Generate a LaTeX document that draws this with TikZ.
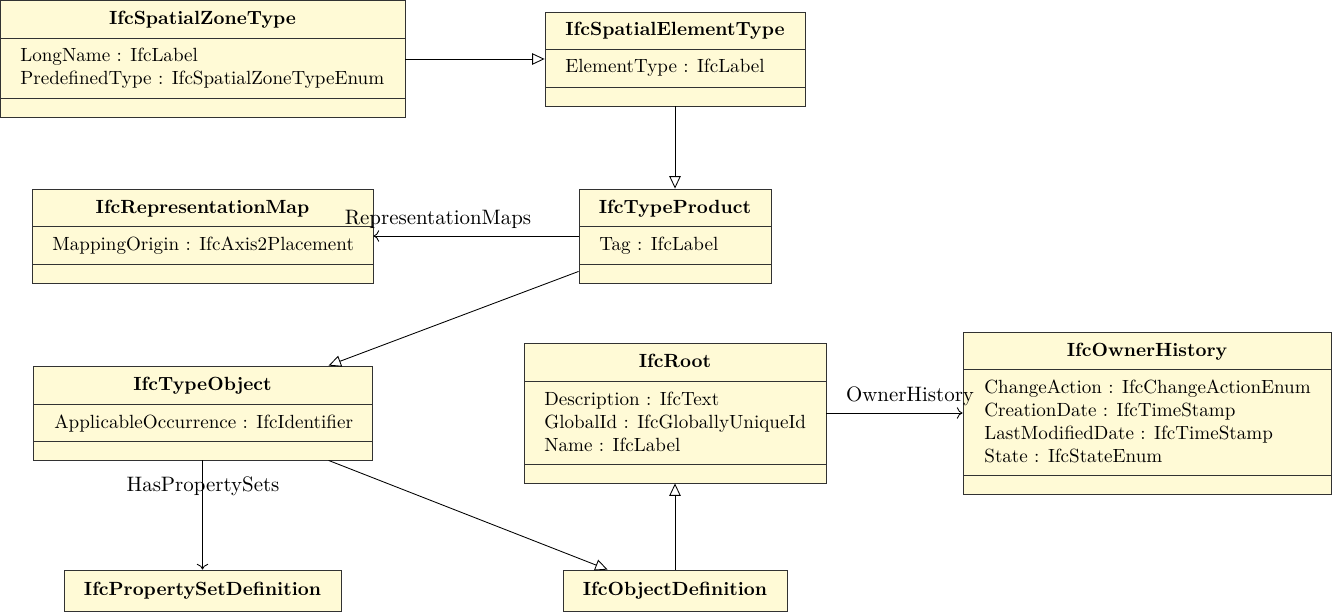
\documentclass[tikz,border=0pt]{standalone}
\usetikzlibrary{arrows.meta,fit,calc}
\definecolor{classfill}{RGB}{255,250,214}
\definecolor{classline}{RGB}{50,50,50}
\tikzset{
  x=0.524pt, y=-0.524pt,
  cls/.style={draw=classline, fill=classfill, line width=0.45pt, inner sep=0pt, rectangle},
  sep/.style={draw=classline, line width=0.45pt},
  ttl/.style={anchor=base, inner sep=0pt, font=\bfseries},
  attr/.style={anchor=base west, inner sep=0pt},
  lbl/.style={anchor=base, inner sep=0pt, font=\fontsize{10.95}{13}\selectfont},
  gen/.style={draw=black, line width=0.45pt, -{Triangle[open, length=6.5pt, width=6pt]}},
  assoc/.style={draw=black, line width=0.45pt, -{To[length=3pt, width=6pt]}}
}
\begin{document}
\begin{tikzpicture}
\useasboundingbox (0,0) rectangle (1332,612);

% IfcSpatialZoneType
\node[cls, fit={(0.5,0.5) (405,117.5)}] (zone) {};
\draw[sep] (0.5,38) -- (405,38);
\draw[sep] (0.5,98) -- (405,98);
\node[ttl] (zoneT) at (202.5,25) {IfcSpatialZoneType};
\node[attr] (zoneA1) at (20,62) {LongName : IfcLabel};
\node[attr] (zoneA2) at (20,85) {PredefinedType : IfcSpatialZoneTypeEnum};

% IfcSpatialElementType
\node[cls, fit={(545,12) (805,106)}] (set) {};
\draw[sep] (545,49) -- (805,49);
\draw[sep] (545,87) -- (805,87);
\node[ttl] (setT) at (675,36) {IfcSpatialElementType};
\node[attr] (setA1) at (565,73) {ElementType : IfcLabel};

% IfcRepresentationMap
\node[cls, fit={(32,189) (373,283)}] (rm) {};
\draw[sep] (32,226) -- (373,226);
\draw[sep] (32,264) -- (373,264);
\node[ttl] (rmT) at (202.5,213) {IfcRepresentationMap};
\node[attr] (rmA1) at (52,250) {MappingOrigin : IfcAxis2Placement};

% IfcTypeProduct
\node[cls, fit={(579,189) (771,283)}] (tp) {};
\draw[sep] (579,226) -- (771,226);
\draw[sep] (579,264) -- (771,264);
\node[ttl] (tpT) at (675,213) {IfcTypeProduct};
\node[attr] (tpA1) at (599,250) {Tag : IfcLabel};

% IfcTypeObject
\node[cls, fit={(33,366) (372,460)}] (to) {};
\draw[sep] (33,404) -- (372,404);
\draw[sep] (33,441) -- (372,441);
\node[ttl] (toT) at (202.5,390) {IfcTypeObject};
\node[attr] (toA1) at (54,428) {ApplicableOccurrence : IfcIdentifier};

% IfcRoot
\node[cls, fit={(524,343) (826,483)}] (root) {};
\draw[sep] (524,381) -- (826,381);
\draw[sep] (524,464) -- (826,464);
\node[ttl] (rootT) at (675,367) {IfcRoot};
\node[attr] (rootA1) at (544,405) {Description : IfcText};
\node[attr] (rootA2) at (544,428) {GlobalId : IfcGloballyUniqueId};
\node[attr] (rootA3) at (544,451) {Name : IfcLabel};

% IfcOwnerHistory
\node[cls, fit={(963,332) (1331,494)}] (oh) {};
\draw[sep] (963,369) -- (1331,369);
\draw[sep] (963,475) -- (1331,475);
\node[ttl] (ohT) at (1147,356) {IfcOwnerHistory};
\node[attr] (ohA1) at (984,393) {ChangeAction : IfcChangeActionEnum};
\node[attr] (ohA2) at (984,416) {CreationDate : IfcTimeStamp};
\node[attr] (ohA3) at (984,439) {LastModifiedDate : IfcTimeStamp};
\node[attr] (ohA4) at (984,462) {State : IfcStateEnum};

% IfcPropertySetDefinition
\node[cls, fit={(64,570) (341,611)}] (psd) {};
\node[ttl] (psdT) at (202.5,595) {IfcPropertySetDefinition};

% IfcObjectDefinition
\node[cls, fit={(563,570) (787,611)}] (od) {};
\node[ttl] (odT) at (675,595) {IfcObjectDefinition};

% helper coordinates
\coordinate (tpOut) at ($(tp.south west)+(0,-12)$);
\coordinate (toIn) at ($(to.north west)+(296,0)$);
\coordinate (toOut) at ($(to.south west)+(296,0)$);
\coordinate (odIn) at ($(od.north west)+(45,0)$);

% connectors
\draw[gen] (zone.east) -- (set.west);
\draw[gen] (set.south) -- (tp.north);
\draw[assoc] (tp.west) -- (rm.east);
\draw[gen] (tpOut) -- (toIn);
\draw[assoc] (to.south) -- (psd.north);
\draw[gen] (toOut) -- (odIn);
\draw[gen] (od.north) -- (root.south);
\draw[assoc] (root.east) -- (oh.west);

% labels
\node[lbl] (lRM) at (438,224) {RepresentationMaps};
\node[lbl] (lHPS) at (203,491) {HasPropertySets};
\node[lbl] (lOH) at (910,401) {OwnerHistory};
\end{tikzpicture}
\end{document}
